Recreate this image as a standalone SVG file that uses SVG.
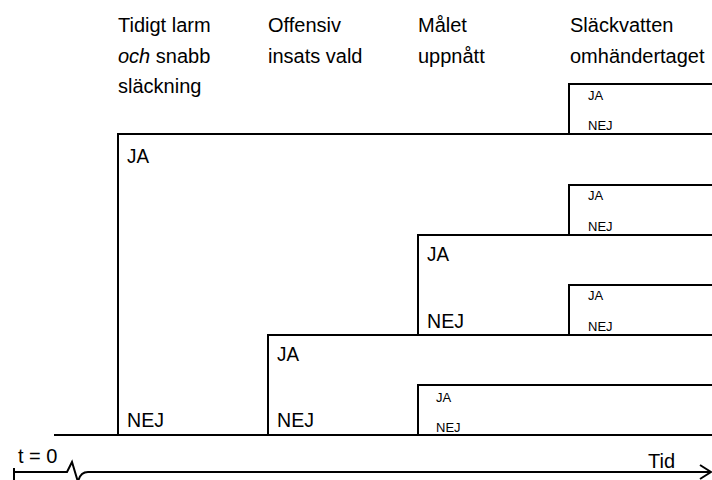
<svg xmlns="http://www.w3.org/2000/svg" width="712" height="480" viewBox="0 0 712 480">
<style>
text{font-family:"Liberation Sans",Arial,sans-serif;fill:#000}
.h{font-size:20px}
.b{font-size:21px}
.s{font-size:13px}
.ln{fill:none;stroke:#000;stroke-width:2}
</style>
<rect width="712" height="480" fill="#fff"/>
<g id="headers">
<g id="h1"><text class="h" x="118" y="32">Tidigt larm</text><text class="h" x="118" y="63"><tspan font-style="italic">och</tspan> snabb</text><text class="h" x="118" y="93">släckning</text></g>
<g id="h2"><text class="h" x="268" y="32">Offensiv</text><text class="h" x="268" y="63">insats vald</text></g>
<g id="h3"><text class="h" x="418" y="32">Målet</text><text class="h" x="418" y="63">uppnått</text></g>
<g id="h4"><text class="h" x="570" y="32">Släckvatten</text><text class="h" x="570" y="63">omhändertaget</text></g>
</g>
<g id="connectors" class="ln">
<path d="M54,435 H712"/>
<path d="M118,435 V134 H712"/>
<path d="M268,435 V335 H712"/>
<path d="M418,335 V235 H712"/>
<path d="M418,435 V385 H712"/>
<path d="M569,134 V84 H712"/>
<path d="M569,235 V185 H712"/>
<path d="M569,335 V285 H712"/>
<path d="M14,468 V480 M14,472 H67 L72,462 L78,482 Q80,472 88,472 H711 M700,465 L711,472 L700,479"/>
</g>
<g id="n1"><text class="b" x="127" y="163" textLength="22" lengthAdjust="spacingAndGlyphs">JA</text><text class="b" x="127" y="427" textLength="37" lengthAdjust="spacingAndGlyphs">NEJ</text></g>
<g id="n2"><text class="b" x="277" y="361" textLength="22" lengthAdjust="spacingAndGlyphs">JA</text><text class="b" x="277" y="427" textLength="37" lengthAdjust="spacingAndGlyphs">NEJ</text></g>
<g id="n3"><text class="b" x="427" y="261" textLength="22" lengthAdjust="spacingAndGlyphs">JA</text><text class="b" x="427" y="328" textLength="37" lengthAdjust="spacingAndGlyphs">NEJ</text></g>
<g id="n4"><text class="s" x="436" y="402">JA</text><text class="s" x="436" y="432">NEJ</text></g>
<g id="n5"><text class="s" x="588" y="100">JA</text><text class="s" x="588" y="130">NEJ</text></g>
<g id="n6"><text class="s" x="588" y="200">JA</text><text class="s" x="588" y="231">NEJ</text></g>
<g id="n7"><text class="s" x="588" y="300">JA</text><text class="s" x="588" y="331">NEJ</text></g>
<g id="axis"><text class="h" x="18" y="463">t = 0</text><text class="h" x="648" y="468">Tid</text></g>
</svg>
